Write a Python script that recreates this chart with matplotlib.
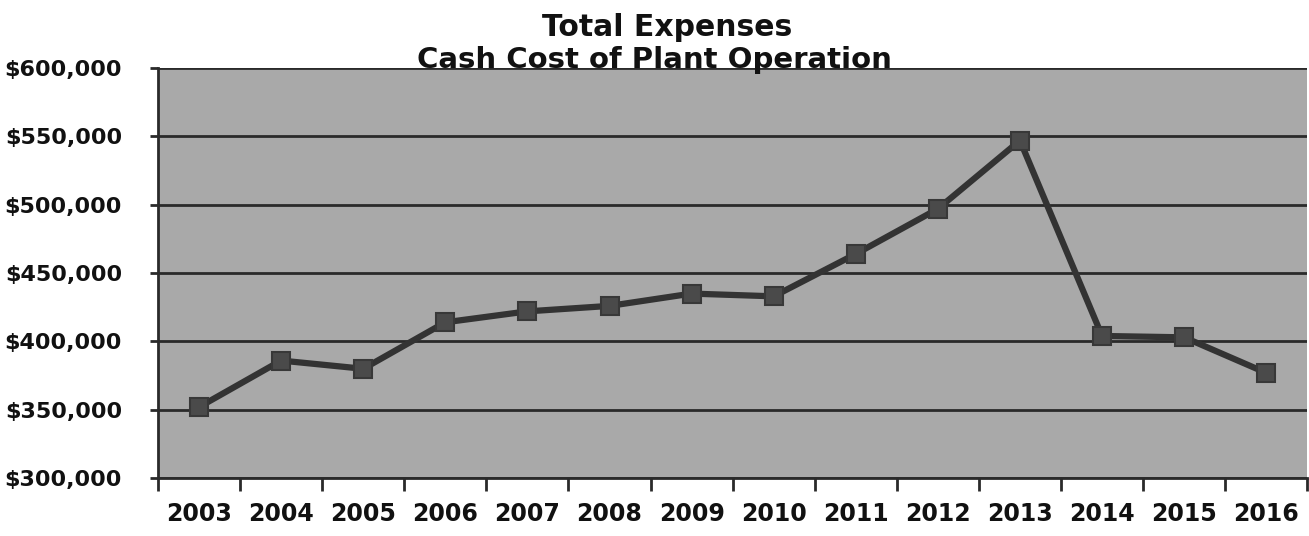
import numpy as np
import matplotlib.pyplot as plt
from matplotlib.ticker import FuncFormatter, FixedLocator

years = ["2003", "2004", "2005", "2006", "2007", "2008", "2009",
         "2010", "2011", "2012", "2013", "2014", "2015", "2016"]
expenses = [352000, 386000, 380000, 414000, 422000, 426000, 435000,
            433000, 464000, 497000, 547000, 404000, 403000, 377000]

fig = plt.figure(figsize=(13.09, 5.36), dpi=100)
ax = fig.add_axes([0.1207, 0.108, 0.878, 0.765])
ax.set_facecolor("#a9a9a9")

x = np.arange(len(years))
ax.plot(x, expenses, color="#333333", linewidth=4.5, marker="s", markersize=13,
        markerfacecolor="#4a4a4a", markeredgecolor="#383838", markeredgewidth=1.5,
        zorder=3)

ax.set_xlim(-0.5, len(years) - 0.5)
ax.set_ylim(300000, 600000)
ax.set_yticks(np.arange(300000, 600001, 50000))
ax.yaxis.set_major_formatter(FuncFormatter(lambda v, p: f"${v:,.0f}"))
ax.grid(axis="y", color="#2a2a2a", linewidth=2)
ax.set_axisbelow(True)

# year labels centred on categories, tick marks on the boundaries
ax.set_xticks(x)
ax.set_xticklabels(years)
ax.tick_params(axis="x", which="major", length=0, pad=17)
ax.xaxis.set_minor_locator(FixedLocator(np.arange(-0.5, len(years), 1.0)))
ax.tick_params(axis="x", which="minor", length=9, width=2, color="#2a2a2a")
ax.tick_params(axis="y", length=6, width=2, color="#2a2a2a", pad=20)

for lab in ax.get_yticklabels():
    lab.set_fontfamily("DejaVu Sans")
    lab.set_fontweight("bold")
    lab.set_fontsize(16)
    lab.set_color("#111111")
for lab in ax.get_xticklabels():
    lab.set_fontfamily("DejaVu Sans")
    lab.set_fontweight("bold")
    lab.set_fontsize(17)
    lab.set_color("#111111")

for side in ["top", "right"]:
    ax.spines[side].set_visible(False)
for side in ["left", "bottom"]:
    ax.spines[side].set_color("#2a2a2a")
    ax.spines[side].set_linewidth(2)

fig.text(0.51, 0.975, "Total Expenses", ha="center", va="top",
         fontsize=21.5, fontweight="bold", family="DejaVu Sans", color="#111111")
fig.text(0.50, 0.915, "Cash Cost of Plant Operation", ha="center", va="top",
         fontsize=21, fontweight="bold", family="DejaVu Sans", color="#111111")

fig.savefig("out.png", dpi=100)
